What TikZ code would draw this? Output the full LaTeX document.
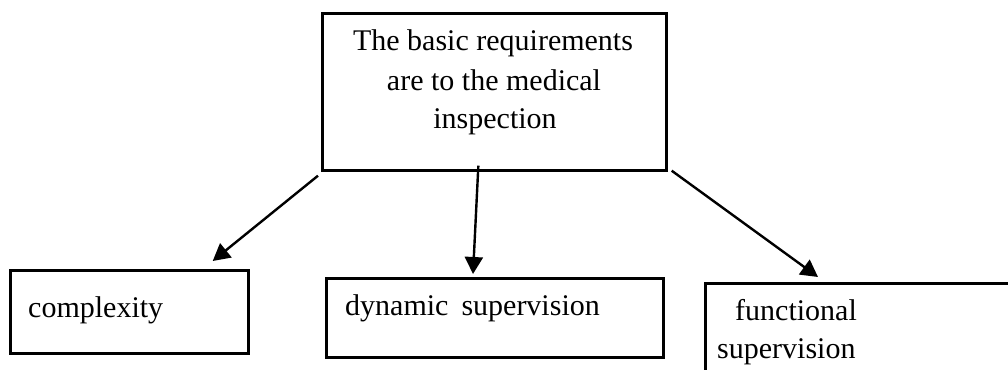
\documentclass[tikz,border=0pt]{standalone}
\usepackage{fontspec}
\setmainfont{Liberation Serif}
\usetikzlibrary{arrows.meta,calc}

\tikzset{
  box/.style={draw, line width=2.7pt, inner sep=0pt, anchor=north west},
  txt/.style={inner sep=0pt, font=\fontsize{30}{39}\selectfont},
  link/.style={line width=2.4pt, -{Triangle[length=17pt,width=18pt]}},
}

\begin{document}
\begin{tikzpicture}[x=1pt, y=-1pt]
  \useasboundingbox (0,0) rectangle (1008,369);
  \clip (0,0) rectangle (1008,369);

  % boxes
  \node[box, minimum width=344pt, minimum height=157pt] (top) at (321,12) {};
  \node[box, minimum width=238pt, minimum height=83pt]  (cpx) at (9,269) {};
  \node[box, minimum width=337pt, minimum height=79pt]  (dyn) at (325,277) {};
  \node[box, minimum width=340pt, minimum height=120pt] (fun) at (704,282) {};

  % texts
  \node[txt, anchor=base] (t1) at (493,50)  {The basic requirements};
  \node[txt, anchor=base] (t2) at (494,90)  {are to the medical};
  \node[txt, anchor=base] (t3) at (495,128) {inspection};
  \node[txt, anchor=base west] (c1) at (28,317)  {complexity};
  \node[txt, anchor=base west] (d1) at (345,315) {dynamic\hskip 13pt supervision};
  \node[txt, anchor=base west] (f1) at (735,320) {functional};
  \node[txt, anchor=base west] (f2) at (717,358) {supervision};

  % connectors
  \coordinate (cpxtip) at ($(cpx.north east)+(-37,-8)$);
  \coordinate (dyntip) at ($(dyn.north west)+(148,-3)$);
  \coordinate (funtip) at ($(fun.north west)+(114,-5)$);
  \draw[link] ($(top.south west)+(-3,4)$) -- (cpxtip);
  \draw[link] ($(top.south)+(-16,-6)$) -- (dyntip);
  \draw[link] ($(top.south east)+(4,-1)$) -- (funtip);
\end{tikzpicture}
\end{document}
